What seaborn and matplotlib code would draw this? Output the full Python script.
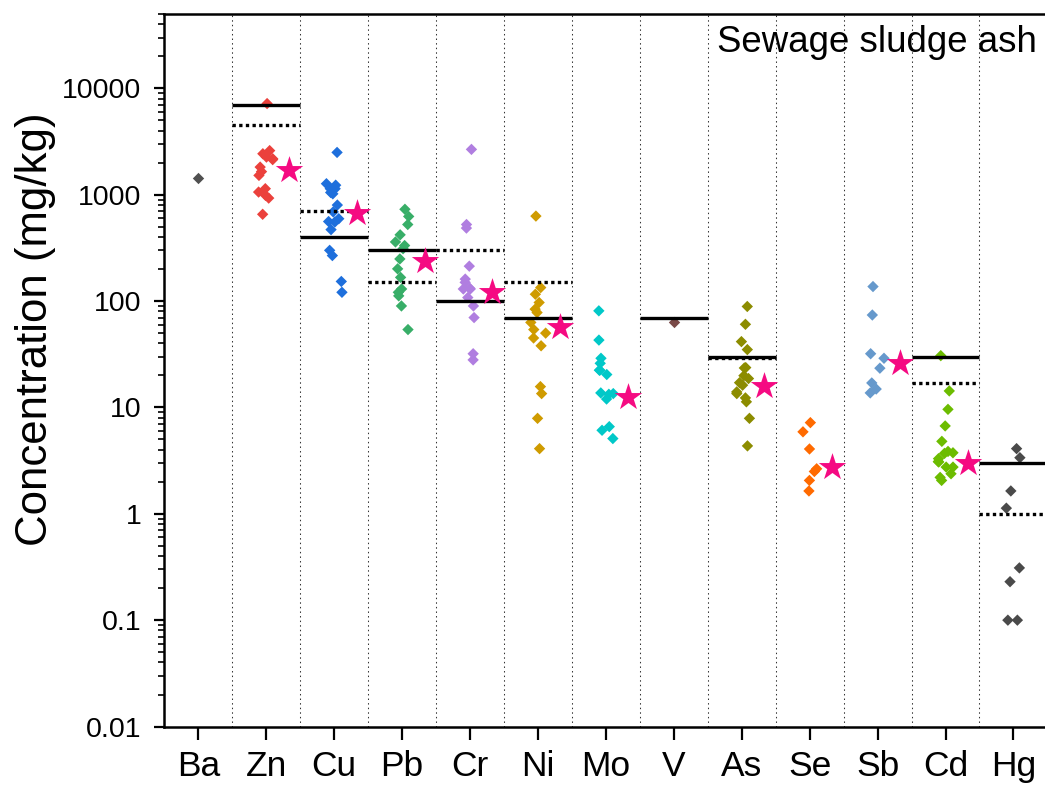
import numpy as np
import pandas as pd
import matplotlib
matplotlib.use("Agg")
import matplotlib.pyplot as plt
import seaborn as sns
from matplotlib.ticker import LogLocator, NullFormatter

# -------------------------------
# Data
# -------------------------------
elements = ["Ba", "Zn", "Cu", "Pb", "Cr", "Ni", "Mo", "V", "As", "Se", "Sb", "Cd", "Hg"]

ba = [1450]
zn = [7200, 2600, 2430, 2260, 2140, 2180, 1820, 1650, 1520, 1140, 1060, 985, 930, 655]
cu = [2500, 1230, 1270, 1140, 1140, 1020, 1050, 800, 690, 560, 555, 595, 470, 300, 268, 153, 121]
pb = [730, 625, 525, 420, 360, 333, 311, 249, 201, 167, 130, 121, 112, 90, 54]
cr = [2670, 525, 486, 213, 161, 150, 130, 130, 132, 108, 90, 70, 32, 28]
ni = [630, 134, 116, 97, 84, 78, 63, 54, 50, 45, 38, 15.7, 13.5, 7.9, 4.1]
mo = [81, 43, 29, 26, 22.4, 22.4, 20.4, 13.7, 13.5, 13.3, 12, 6.6, 6.1, 5.1]
v = [63]
as_ = [89, 60.5, 41.6, 35, 23.7, 23.5, 18.7, 19.9, 17.1, 16.2, 13.5, 14, 12.3, 11.3, 7.9, 4.35]
se = [7.2, 5.9, 4.07, 2.65, 2.5, 2.06, 1.64]
sb = [137, 74, 32, 29, 23.4, 17, 14.9, 13.7]
cd = [30.7, 14.3, 9.6, 6.7, 4.8, 3.86, 3.75, 3.7, 3.3, 3.1, 3.07, 2.75, 2.75, 2.38, 2.2, 2.06]
hg = [4.1, 3.37, 1.64, 1.13, 0.31, 0.23, 0.1, 0.1]

samples = [ba, zn, cu, pb, cr, ni, mo, v, as_, se, sb, cd, hg]

# limit values (solid and dotted lines), nan = no line
limit_solid = [np.nan, 7000, 400, 300, 100, 70, np.nan, 70, 30, np.nan, np.nan, 30, 3]
limit_dotted = [np.nan, 4500, 700, 150, 300, 150, np.nan, np.nan, 29, np.nan, np.nan, 17, 1]

# star values
star_vals = [np.nan, 1700, 680, 238, 121, 57, 12.5, np.nan, 16, 2.75, 26, 3.0, np.nan]

colors = ["#505050", "#EB413C", "#1E6FDC", "#38AE68", "#B07EE0", "#CF9B00", "#00C8C8",
          "#7A4A48", "#8C8C00", "#FF6A00", "#6699CC", "#6CBC00", "#4A4A4A"]
star_color = "#F50A82"

df = pd.DataFrame({
    "element": np.repeat(elements, [len(s) for s in samples]),
    "value": np.concatenate(samples),
})

# -------------------------------
# Plot
# -------------------------------
sns.set_style("ticks")
plt.rcParams["font.family"] = ["Liberation Sans", "DejaVu Sans"]
plt.rcParams["text.color"] = "black"
plt.rcParams["axes.labelcolor"] = "black"
plt.rcParams["xtick.color"] = "black"
plt.rcParams["ytick.color"] = "black"

fig = plt.figure(figsize=(10.45, 7.85), dpi=100)
ax = fig.add_axes([0.1573, 0.0745, 0.845, 0.9076])

np.random.seed(3)
sns.stripplot(data=df, x="element", y="value", hue="element", order=elements,
              hue_order=elements, palette=dict(zip(elements, colors)),
              marker="D", size=5.8, jitter=0.12, linewidth=0, legend=False,
              ax=ax, zorder=3)

ax.set_yscale("log")
ax.set_ylim(0.01, 50000)
ax.set_xlim(-0.5, len(elements) - 0.5)

pos = np.arange(len(elements))

# separators between elements
for xb in pos[:-1] + 0.5:
    ax.axvline(xb, color="#333333", lw=0.75, linestyle=(0, (1.4, 3)), zorder=1)

# limit lines
ax.hlines(limit_solid, pos - 0.5, pos + 0.5, colors="black", lw=2.4, zorder=4)
ax.hlines(limit_dotted, pos - 0.5, pos + 0.5, colors="black", lw=2.4,
          linestyles=[(0, (1, 1))], zorder=4)

# stars
ax.scatter(pos + 0.33, star_vals, marker="*", s=430, color=star_color,
           linewidths=0, zorder=5)

# axes styling
for side in ["left", "bottom", "top", "right"]:
    ax.spines[side].set_visible(True)
    ax.spines[side].set_linewidth(1.8)
    ax.spines[side].set_color("black")

yt = [0.01, 0.1, 1, 10, 100, 1000, 10000]
ax.set_yticks(yt)
ax.set_yticklabels(["0.01", "0.1", "1", "10", "100", "1000", "10000"])
ax.yaxis.set_minor_locator(LogLocator(base=10, subs=np.arange(2, 10), numticks=20))
ax.yaxis.set_minor_formatter(NullFormatter())
ax.tick_params(axis="y", which="major", direction="out", length=7.5, width=1.6,
               labelsize=20.5, pad=9)
ax.tick_params(axis="y", which="minor", direction="out", length=4, width=1.2)
ax.tick_params(axis="x", which="major", direction="out", length=9, width=1.6,
               labelsize=25.5, pad=8)

ax.set_xlabel("")
ax.set_ylabel("Concentration (mg/kg)", fontsize=31.5)
ax.yaxis.set_label_coords(-0.123, 0.558)

ax.text(0.988, 0.9467, "Sewage sludge ash", transform=ax.transAxes, ha="right",
        va="baseline", fontsize=26.4)

fig.savefig("out.png", dpi=100)
